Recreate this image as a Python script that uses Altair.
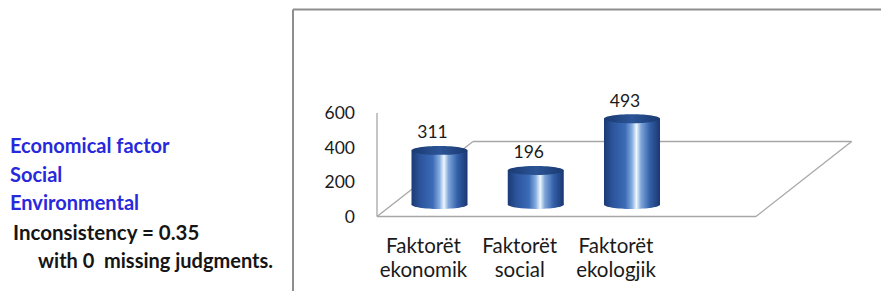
import altair as alt
import pandas as pd

# ---- data ----
categories = ["Faktorët\nekonomik", "Faktorët\nsocial", "Faktorët\nekologjik"]
values = [311, 196, 493]
tick_values = [0, 200, 400, 600]
side_blue = ["Economical factor", "Social", "Environmental"]
side_black = ["Inconsistency = 0.35", "with 0\u00a0 missing judgments."]

df = pd.DataFrame({"cat": categories, "value": values})
ticks = pd.DataFrame({"tick": tick_values})
one = pd.DataFrame({"d": [0]})

FONT = "Lato"
TXT = "#1a1a1a"
GRID = "#a6a6a6"

cyl_grad = {
    "gradient": "linear", "x1": 0, "x2": 1, "y1": 0, "y2": 0,
    "stops": [
        {"offset": 0.0, "color": "#1b3a74"},
        {"offset": 0.15, "color": "#2b549b"},
        {"offset": 0.38, "color": "#3c6bb7"},
        {"offset": 0.5, "color": "#86addf"},
        {"offset": 0.58, "color": "#eef7ff"},
        {"offset": 0.66, "color": "#7fa6da"},
        {"offset": 0.82, "color": "#3260a8"},
        {"offset": 1.0, "color": "#1a3670"},
    ],
}
top_grad = {
    "gradient": "linear", "x1": 0, "x2": 1, "y1": 0, "y2": 0,
    "stops": [
        {"offset": 0.0, "color": "#1a3a72"},
        {"offset": 0.5, "color": "#2b5496"},
        {"offset": 1.0, "color": "#1a3a72"},
    ],
}
ELLIPSE = ("M -1 0 C -1 -0.0884 -0.5523 -0.16 0 -0.16 "
           "C 0.5523 -0.16 1 -0.0884 1 0 "
           "C 1 0.0884 0.5523 0.16 0 0.16 "
           "C -0.5523 0.16 -1 0.0884 -1 0 Z")

xscale = alt.Scale(type="point", domain=categories, range=[431.5, 624], padding=0)
yscale = alt.Scale(domain=[0, 600], range=[196.5, 92.1], nice=False, zero=False)
tscale = alt.Scale(domain=[0, 600], range=[209.7, 106], nice=False, zero=False)

X = alt.X("cat:N", scale=xscale, axis=None)
Y = alt.Y("value:Q", scale=yscale, axis=None)

base = alt.Chart(df)

# decorations: chart frame, axis line, floor
def rule(x, y, x2, y2, color=GRID, w=1.3):
    return alt.Chart(one).mark_rule(color=color, strokeWidth=w).encode(
        x=alt.value(x), y=alt.value(y), x2=alt.value(x2), y2=alt.value(y2))

frame = rule(285, 1.5, 900, 1.5, "#8e8e8e", 2) + rule(285, 1.5, 285, 300, "#8e8e8e", 2)
axis_line = rule(369, 105, 369, 208.5)
floor = (rule(369, 208.5, 748, 208.5) + rule(465, 133.5, 843.6, 133.5)
         + rule(369, 208.5, 465, 133.5) + rule(748, 208.5, 843.6, 133.5))

tick_labels = alt.Chart(ticks).mark_text(
    font=FONT, fontSize=17.5, color=TXT, align="right", baseline="middle"
).encode(x=alt.value(347), y=alt.Y("tick:Q", scale=tscale, axis=None), text="tick:Q")

bottom = base.mark_point(shape=ELLIPSE, filled=True, fill=cyl_grad, opacity=1,
                         strokeWidth=0, size=56 * 56).encode(
    x=X, y=alt.Y("zero:Q", scale=yscale, axis=None)).transform_calculate(zero="0")
bars = base.mark_bar(fill=cyl_grad, size=56).encode(x=X, y=Y)
top = base.mark_point(shape=ELLIPSE, filled=True, fill=top_grad, opacity=1,
                      strokeWidth=0, size=56 * 56).encode(x=X, y=Y)
value_labels = base.mark_text(font=FONT, fontSize=17.5, color=TXT, baseline="middle",
                              dx=-7, dy=-17).encode(x=X, y=Y, text="value:Q")
cat_labels = base.mark_text(font=FONT, fontSize=20.5, color=TXT, baseline="middle",
                            align="center", dx=-16, lineBreak="\n", lineHeight=24.5
                            ).encode(x=X, y=alt.value(238.7), text="cat:N")

side_layers = []
for txt, yb in zip(side_blue, [145.3, 173.7, 202]):
    side_layers.append(alt.Chart(one).mark_text(
        font=FONT, fontSize=20, fontWeight="bold", color="#2828dc",
        align="left", baseline="alphabetic").encode(
        x=alt.value(2), y=alt.value(yb), text=alt.value(txt)))
for txt, xb, yb, fs in zip(side_black, [5, 30], [232, 260.3], [20.5, 20]):
    side_layers.append(alt.Chart(one).mark_text(
        font=FONT, fontSize=fs, fontWeight="bold", color="#151515",
        align="left", baseline="alphabetic").encode(
        x=alt.value(xb), y=alt.value(yb), text=alt.value(txt)))

chart = alt.layer(
    frame, axis_line, floor, tick_labels, bottom, bars, top, value_labels,
    cat_labels, *side_layers
).resolve_scale(y="independent").properties(
    width=873, height=283, padding=0, autosize=alt.AutoSizeParams(type="none"),
    background="white"
).configure_view(stroke=None)

chart.save("out.html", embed_options={"renderer": "svg", "actions": False})
